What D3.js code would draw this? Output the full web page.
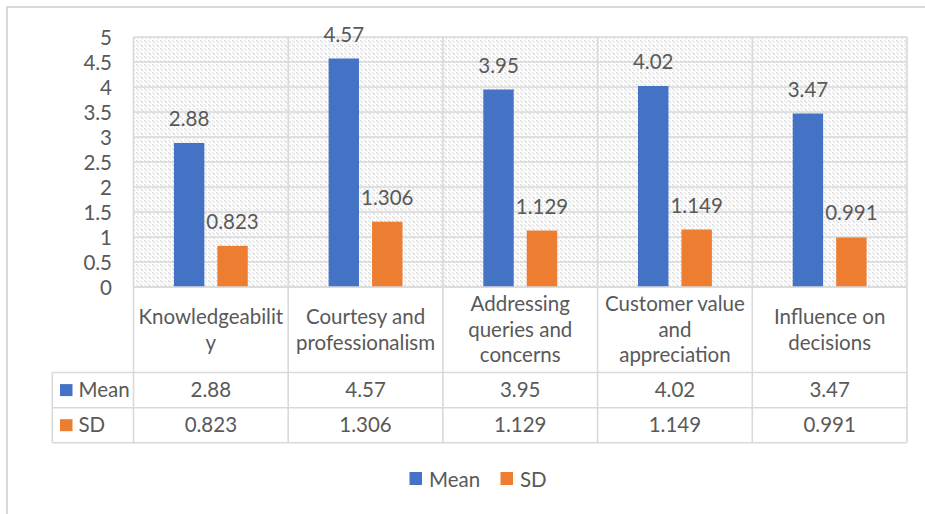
<!DOCTYPE html>
<html>
<head>
<meta charset="utf-8">
<script src="https://cdn.jsdelivr.net/npm/d3@7/dist/d3.min.js"></script>
<style>
  html, body { margin: 0; padding: 0; background: #fff; }
  svg { display: block; }
  text { font-family: Lato, "Open Sans", sans-serif; fill: #595959; }
</style>
</head>
<body>
<script>
// Service-quality ratings: mean and standard deviation per dimension
const categories = [
  "Knowledgeability",
  "Courtesy and professionalism",
  "Addressing queries and concerns",
  "Customer value and appreciation",
  "Influence on decisions"
];
// How each category name wraps inside its table column
const categoryLines = [
  ["Knowledgeabilit", "y"],
  ["Courtesy and", "professionalism"],
  ["Addressing", "queries and", "concerns"],
  ["Customer value", "and", "appreciation"],
  ["Influence on", "decisions"]
];
const seriesNames = ["Mean", "SD"];
const meanValues = [2.88, 4.57, 3.95, 4.02, 3.47];
const sdValues = [0.823, 1.306, 1.129, 1.149, 0.991];
const meanLabels = ["2.88", "4.57", "3.95", "4.02", "3.47"];
const sdLabels = ["0.823", "1.306", "1.129", "1.149", "0.991"];
const yTicks = [0, 0.5, 1, 1.5, 2, 2.5, 3, 3.5, 4, 4.5, 5];

const colors = { Mean: "#4472C4", SD: "#ED7D31" };
const grid = "#d9d9d9";
const W = 925, H = 514;
const FS = 20.5;

const series = [
  { name: "Mean", values: meanValues, labels: meanLabels },
  { name: "SD", values: sdValues, labels: sdLabels }
];

const svg = d3.select("body").append("svg").attr("width", W).attr("height", H);

// Plot-area hatch fill
const defs = svg.append("defs");
const pat = defs.append("pattern")
  .attr("id", "hatch").attr("patternUnits", "userSpaceOnUse")
  .attr("width", 8).attr("height", 8);
pat.append("rect").attr("width", 8).attr("height", 8).attr("fill", "#fff");
pat.append("path")
  .attr("d", "M0,0 L3,3 M4,4 L7,7")
  .attr("stroke", "#dcdcdc").attr("stroke-width", 1.3).attr("fill", "none");
pat.append("path")
  .attr("d", "M4,0 L7,3 M0,4 L3,7")
  .attr("stroke", "#e6e6e6").attr("stroke-width", 1.1).attr("fill", "none");

// Chart frame (extends past the right and bottom edges)
svg.append("path")
  .attr("d", `M7,${H + 5} L7,7 L${W + 5},7`)
  .attr("fill", "none").attr("stroke", grid).attr("stroke-width", 2);

const plotLeft = 133.5, plotRight = 907, plotTop = 37, plotBottom = 287;
const rowHeader = 372.5, rowMean = 407.7, rowSD = 442.7;
const tableLeft = 52.3;

const x0 = d3.scaleBand().domain(categories).range([plotLeft, plotRight]).padding(0);
const x1 = d3.scaleBand().domain(seriesNames).range([0, x0.bandwidth()])
  .paddingInner(0.3).paddingOuter(0.93);
const y = d3.scaleLinear().domain([0, 5]).range([plotBottom, plotTop]);

// Plot background
svg.append("rect")
  .attr("x", plotLeft).attr("y", plotTop)
  .attr("width", plotRight - plotLeft).attr("height", plotBottom - plotTop)
  .attr("fill", "url(#hatch)");

// Horizontal gridlines
svg.append("g").selectAll("line").data(yTicks).join("line")
  .attr("x1", plotLeft).attr("x2", plotRight)
  .attr("y1", d => y(d)).attr("y2", d => y(d))
  .attr("stroke", grid).attr("stroke-width", 1.6);

// Y axis labels
const yAxis = d3.axisLeft(y).tickValues(yTicks).tickSize(0).tickPadding(0)
  .tickFormat(d3.format("~g"));
const yg = svg.append("g").attr("transform", "translate(112,0)").call(yAxis);
yg.select(".domain").remove();
yg.selectAll("text")
  .attr("font-size", FS).attr("font-family", "Lato, 'Open Sans', sans-serif")
  .attr("fill", "#595959").attr("dy", "0.35em");

// Bars
const groups = svg.append("g").selectAll("g").data(categories).join("g")
  .attr("transform", c => `translate(${x0(c)},0)`);
series.forEach(s => {
  groups.append("rect")
    .attr("x", x1(s.name))
    .attr("width", x1.bandwidth())
    .attr("y", (c, i) => y(s.values[i]))
    .attr("height", (c, i) => y(0) - y(s.values[i]))
    .attr("fill", colors[s.name]);
  groups.append("text")
    .attr("x", x1(s.name) + x1.bandwidth() / 2)
    .attr("y", (c, i) => y(s.values[i]) - 17)
    .attr("text-anchor", "middle")
    .attr("font-size", FS)
    .text((c, i) => s.labels[i]);
});

// Data table lines
const tbl = svg.append("g").attr("stroke", grid).attr("stroke-width", 1.6);
x0.domain().map(c => x0(c)).concat([plotRight]).forEach(xv => {
  tbl.append("line").attr("x1", xv).attr("x2", xv)
    .attr("y1", plotTop).attr("y2", rowSD);
});
tbl.append("line").attr("x1", tableLeft).attr("x2", tableLeft)
  .attr("y1", rowHeader).attr("y2", rowSD);
tbl.append("line").attr("x1", plotLeft).attr("x2", plotRight)
  .attr("y1", plotBottom).attr("y2", plotBottom);
[rowHeader, rowMean, rowSD].forEach(yv => {
  tbl.append("line").attr("x1", tableLeft).attr("x2", plotRight)
    .attr("y1", yv).attr("y2", yv);
});

// Category header cells
const lineGap = 25.5;
const headerMid = (plotBottom + rowHeader) / 2;
categories.forEach((c, i) => {
  const lines = categoryLines[i];
  const t = svg.append("text")
    .attr("text-anchor", "middle")
    .attr("font-size", FS);
  lines.forEach((ln, k) => {
    t.append("tspan")
      .attr("x", x0(c) + x0.bandwidth() / 2)
      .attr("y", headerMid + (k - (lines.length - 1) / 2) * lineGap)
      .attr("dy", "0.35em")
      .text(ln);
  });
});

// Value rows with legend keys
const rowMids = [(rowHeader + rowMean) / 2, (rowMean + rowSD) / 2];
series.forEach((s, r) => {
  const ym = rowMids[r];
  svg.append("rect")
    .attr("x", 60).attr("y", ym - 6).attr("width", 12.5).attr("height", 12)
    .attr("fill", colors[s.name]);
  svg.append("text")
    .attr("x", 78.5).attr("y", ym).attr("dy", "0.35em")
    .attr("font-size", FS).text(s.name);
  categories.forEach((c, i) => {
    svg.append("text")
      .attr("x", x0(c) + x0.bandwidth() / 2).attr("y", ym).attr("dy", "0.35em")
      .attr("text-anchor", "middle").attr("font-size", FS)
      .text(s.labels[i]);
  });
});

// Legend
const legendX = [409.5, 500.5];
series.forEach((s, k) => {
  svg.append("rect")
    .attr("x", legendX[k]).attr("y", 472).attr("width", 12.5).attr("height", 13)
    .attr("fill", colors[s.name]);
  svg.append("text")
    .attr("x", legendX[k] + 19.5).attr("y", 479.5).attr("dy", "0.35em")
    .attr("font-size", FS).text(s.name);
});
</script>
</body>
</html>
